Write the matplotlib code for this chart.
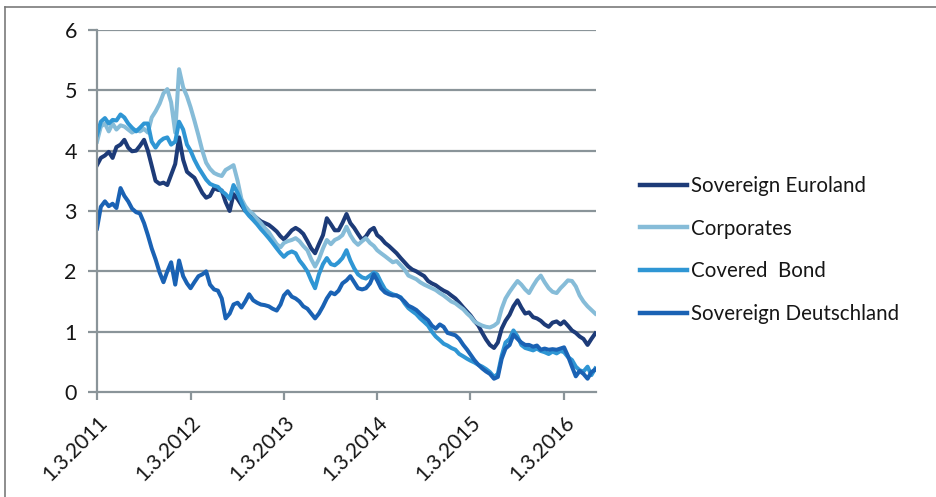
import matplotlib
matplotlib.use("Agg")
import matplotlib.pyplot as plt
from matplotlib.lines import Line2D
import pandas as pd

plt.rcParams["font.family"] = ["Lato", "DejaVu Sans"]

# Semi-monthly observation dates, 1 Mar 2011 - 1 Jul 2016
months = pd.date_range("2011-03-01", "2016-06-01", freq="MS")
dates = [d for m in months for d in (m, m + pd.Timedelta(days=15))] + [pd.Timestamp("2016-07-01")]

series_names = ["Sovereign Euroland", "Corporates", "Covered  Bond", "Sovereign Deutschland"]

sovereign_euroland = [
    3.76, 3.88, 3.92, 3.98, 3.88, 4.06, 4.10, 4.18, 4.05, 3.99,
    4.00, 4.08, 4.18, 4.00, 3.75, 3.50, 3.45, 3.47, 3.43, 3.60,
    3.78, 4.22, 3.85, 3.65, 3.60, 3.55, 3.42, 3.30, 3.22, 3.25,
    3.38, 3.35, 3.34, 3.15, 3.00, 3.28, 3.20, 3.10, 3.00, 2.97,
    2.93, 2.88, 2.83, 2.80, 2.77, 2.72, 2.66, 2.58, 2.53, 2.60,
    2.68, 2.72, 2.68, 2.62, 2.50, 2.38, 2.30, 2.45, 2.60, 2.88,
    2.78, 2.68, 2.68, 2.80, 2.95, 2.80, 2.72, 2.62, 2.52, 2.58,
    2.68, 2.72, 2.60, 2.55, 2.47, 2.42, 2.36, 2.30, 2.22, 2.15,
    2.08, 2.03, 2.00, 1.96, 1.92, 1.84, 1.80, 1.77, 1.72, 1.68,
    1.65, 1.60, 1.55, 1.48, 1.40, 1.33, 1.27, 1.18, 1.10, 0.98,
    0.87, 0.78, 0.73, 0.82, 1.05, 1.18, 1.28, 1.42, 1.52, 1.40,
    1.30, 1.32, 1.24, 1.22, 1.18, 1.12, 1.08, 1.15, 1.17, 1.12,
    1.17, 1.10, 1.02, 0.98, 0.92, 0.88, 0.78, 0.88, 0.97,
]

corporates = [
    4.15, 4.40, 4.45, 4.32, 4.45, 4.35, 4.42, 4.40, 4.35, 4.30,
    4.34, 4.32, 4.36, 4.30, 4.55, 4.65, 4.78, 4.95, 5.02, 4.80,
    4.30, 5.35, 5.05, 4.90, 4.72, 4.50, 4.25, 4.00, 3.80, 3.70,
    3.63, 3.60, 3.58, 3.68, 3.72, 3.76, 3.50, 3.20, 3.08, 3.00,
    2.95, 2.87, 2.80, 2.72, 2.65, 2.55, 2.45, 2.40, 2.47, 2.50,
    2.52, 2.55, 2.50, 2.42, 2.35, 2.20, 2.08, 2.20, 2.38, 2.52,
    2.45, 2.52, 2.55, 2.60, 2.74, 2.60, 2.50, 2.44, 2.50, 2.55,
    2.47, 2.42, 2.35, 2.30, 2.25, 2.20, 2.15, 2.17, 2.10, 2.03,
    1.93, 1.90, 1.87, 1.82, 1.78, 1.75, 1.72, 1.69, 1.64, 1.60,
    1.55, 1.50, 1.47, 1.42, 1.37, 1.30, 1.25, 1.17, 1.13, 1.10,
    1.08, 1.07, 1.10, 1.15, 1.38, 1.55, 1.66, 1.75, 1.84, 1.78,
    1.70, 1.64, 1.76, 1.86, 1.93, 1.82, 1.72, 1.66, 1.64, 1.72,
    1.78, 1.85, 1.84, 1.75, 1.60, 1.50, 1.42, 1.36, 1.30,
]

covered_bond = [
    4.26, 4.48, 4.54, 4.45, 4.51, 4.50, 4.60, 4.55, 4.45, 4.38,
    4.32, 4.38, 4.45, 4.45, 4.15, 4.05, 4.15, 4.20, 4.22, 4.10,
    4.15, 4.48, 4.35, 4.10, 4.00, 3.85, 3.72, 3.62, 3.52, 3.45,
    3.42, 3.40, 3.33, 3.28, 3.20, 3.43, 3.30, 3.15, 3.00, 2.92,
    2.85, 2.78, 2.70, 2.63, 2.55, 2.47, 2.38, 2.30, 2.24, 2.30,
    2.33, 2.30, 2.18, 2.10, 2.00, 1.85, 1.72, 1.95, 2.12, 2.22,
    2.12, 2.10, 2.15, 2.22, 2.35, 2.18, 2.05, 1.95, 1.90, 1.88,
    1.93, 1.98, 1.95, 1.82, 1.70, 1.65, 1.62, 1.60, 1.57, 1.47,
    1.39, 1.34, 1.29, 1.22, 1.16, 1.10, 1.00, 0.92, 0.86, 0.80,
    0.77, 0.73, 0.70, 0.63, 0.59, 0.55, 0.52, 0.49, 0.45, 0.42,
    0.38, 0.33, 0.25, 0.30, 0.60, 0.82, 0.88, 1.02, 0.92, 0.78,
    0.73, 0.71, 0.69, 0.72, 0.68, 0.66, 0.63, 0.67, 0.64, 0.68,
    0.66, 0.58, 0.53, 0.42, 0.36, 0.34, 0.42, 0.28, 0.39,
]

sovereign_deutschland = [
    2.71, 3.07, 3.16, 3.08, 3.12, 3.05, 3.38, 3.25, 3.16, 3.04,
    2.98, 2.96, 2.80, 2.60, 2.38, 2.20, 1.98, 1.82, 2.00, 2.15,
    1.78, 2.18, 1.92, 1.80, 1.72, 1.82, 1.92, 1.95, 2.00, 1.78,
    1.70, 1.68, 1.55, 1.22, 1.30, 1.45, 1.48, 1.40, 1.50, 1.62,
    1.52, 1.48, 1.45, 1.44, 1.42, 1.38, 1.35, 1.45, 1.60, 1.67,
    1.58, 1.55, 1.50, 1.42, 1.38, 1.30, 1.22, 1.30, 1.42, 1.55,
    1.65, 1.62, 1.68, 1.80, 1.85, 1.92, 1.82, 1.72, 1.70, 1.72,
    1.80, 1.95, 1.85, 1.72, 1.65, 1.62, 1.60, 1.60, 1.56, 1.50,
    1.43, 1.40, 1.36, 1.30, 1.24, 1.19, 1.10, 1.05, 1.12, 1.08,
    0.98, 0.96, 0.94, 0.88, 0.78, 0.70, 0.62, 0.53, 0.45, 0.39,
    0.34, 0.30, 0.22, 0.25, 0.55, 0.72, 0.78, 0.95, 0.88, 0.82,
    0.78, 0.78, 0.75, 0.77, 0.70, 0.72, 0.70, 0.71, 0.70, 0.72,
    0.74, 0.60, 0.42, 0.26, 0.35, 0.30, 0.22, 0.33, 0.37,
]

tick_dates = pd.to_datetime(["2011-03-01", "2012-03-01", "2013-03-01",
                             "2014-03-01", "2015-03-01", "2016-03-01"])
tick_labels = ["1.3.2011", "1.3.2012", "1.3.2013", "1.3.2014", "1.3.2015", "1.3.2016"]
y_ticks = [0, 1, 2, 3, 4, 5, 6]

colors = ["#1d3b78", "#86bcd8", "#2f96d4", "#1a62b4"]
grid_color = "#8a9499"
text_color = "#161616"

fig = plt.figure(figsize=(9.37, 4.97), dpi=100)
ax = fig.add_axes([97 / 937, 105 / 497, 499 / 937, 362 / 497])

values = [sovereign_euroland, corporates, covered_bond, sovereign_deutschland]
for name, vals, c in zip(series_names, values, colors):
    ax.plot(dates, vals, color=c, lw=2.9, solid_joinstyle="round", label=name)

ax.set_ylim(0, 6)
ax.set_xlim(pd.Timestamp("2011-03-01"), pd.Timestamp("2016-07-04"))
ax.set_yticks(y_ticks)
ax.set_yticklabels([str(v) for v in y_ticks])
ax.set_xticks(tick_dates)
ax.set_xticklabels(tick_labels, rotation=45, ha="right", va="top",
                   rotation_mode="anchor")

for y in y_ticks[1:]:
    ax.axhline(y, color=grid_color, lw=1.6, zorder=0)

for s in ["top", "right"]:
    ax.spines[s].set_visible(False)
for s in ["left", "bottom"]:
    ax.spines[s].set_color(grid_color)
    ax.spines[s].set_linewidth(1.6)

ax.tick_params(axis="y", direction="out", length=6.5, width=1.6, color=grid_color,
               pad=8, labelsize=15.5, labelcolor=text_color)
ax.tick_params(axis="x", direction="out", length=6, width=1.6, color=grid_color,
               pad=9, labelsize=15, labelcolor=text_color)

handles = [Line2D([], [], color=c, lw=3.2) for c in colors]
fig.legend(handles, series_names, loc="upper left",
           bbox_to_anchor=(640 / 937, 1 - 176 / 497), frameon=False,
           fontsize=14.8, handlelength=2.3, handletextpad=0.2,
           labelspacing=1.1, borderpad=0, borderaxespad=0,
           labelcolor=text_color)

# outer frame (top and left edges)
fig.add_artist(Line2D([5 / 937, 5 / 937], [0, 1 - 7 / 497],
                      transform=fig.transFigure, color="#7a7a7a", lw=1.2))
fig.add_artist(Line2D([5 / 937, 1], [1 - 7 / 497, 1 - 7 / 497],
                      transform=fig.transFigure, color="#7a7a7a", lw=1.2))

fig.savefig("out.png", dpi=100)
